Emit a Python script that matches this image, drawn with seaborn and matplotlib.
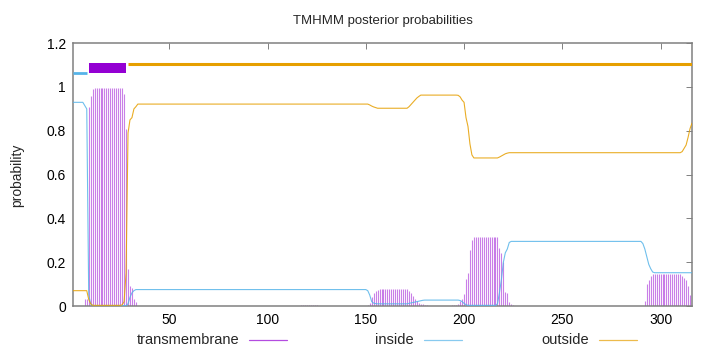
import numpy as np
import pandas as pd
import matplotlib
matplotlib.use("Agg")
import matplotlib.pyplot as plt
from matplotlib.lines import Line2D
import seaborn as sns

# ---------------- data ----------------
residues = list(range(1, 317))

tm_prob = ([0.0] * 6 + [0.03, 0.03, 0.91, 0.96, 0.99] + [0.995] * 15 +
           [0.97, 0.81, 0.17, 0.09, 0.08, 0.03, 0.02] + [0.0] * 83 +
           [0.003] * 9 + [0.0] * 25 +
           [0.005, 0.013, 0.04, 0.06, 0.067, 0.072] + [0.077] * 15 +
           [0.07, 0.06, 0.045, 0.033, 0.024, 0.015, 0.01, 0.007, 0.005, 0.003] +
           [0.002] * 5 + [0.0] * 7 + [0.004] * 3 +
           [0.01, 0.024, 0.034, 0.057, 0.125, 0.15, 0.256, 0.30] + [0.315] * 13 +
           [0.265, 0.24, 0.20, 0.065, 0.06, 0.02, 0.01, 0.005] + [0.0] * 66 +
           [0.025, 0.10, 0.12, 0.135] + [0.145] * 15 +
           [0.135, 0.13, 0.12, 0.09, 0.05, 0.02])

inside_prob = ([0.93] * 6 + [0.915, 0.90, 0.05, 0.01] + [0.002] * 18 +
               [0.01, 0.04, 0.06, 0.07] + [0.075] * 118 +
               [0.07, 0.05, 0.02, 0.013, 0.011] + [0.01] * 16 +
               [0.012, 0.014, 0.016, 0.018, 0.02, 0.022, 0.024, 0.026] + [0.027] * 18 +
               [0.025, 0.02, 0.012, 0.006] + [0.003] * 15 +
               [0.01, 0.06, 0.12, 0.20, 0.243, 0.26, 0.29] + [0.295] * 67 +
               [0.285, 0.26, 0.225, 0.19, 0.17, 0.155] + [0.152] * 20)

outside_prob = ([0.07] * 8 + [0.03, 0.01] + [0.003] * 15 +
                [0.005, 0.02, 0.15, 0.79, 0.85, 0.86, 0.90, 0.91] + [0.922] * 118 +
                [0.918, 0.913, 0.909, 0.906] + [0.903] * 16 +
                [0.91, 0.92, 0.93, 0.94, 0.95, 0.957] + [0.963] * 19 +
                [0.962, 0.955, 0.94, 0.93, 0.86, 0.82, 0.74, 0.69] + [0.676] * 13 +
                [0.68, 0.685, 0.69, 0.695, 0.698] + [0.70] * 88 +
                [0.705, 0.72, 0.735, 0.77, 0.81, 0.835])

# predicted topology (top bar)
seg_labels = ["inside", "TMhelix", "outside"]
seg_start = [1.0, 9.3, 29.0]
seg_end = [8.1, 28.0, 316.0]

series_names = ["transmembrane", "inside", "outside"]
xtick_values = [50, 100, 150, 200, 250, 300]
ytick_values = [0, 0.2, 0.4, 0.6, 0.8, 1.0, 1.2]
ytick_labels = ["0", "0.2", "0.4", "0.6", "0.8", "1", "1.2"]

assert len(tm_prob) == len(inside_prob) == len(outside_prob) == len(residues)

# ---------------- styling ----------------
sns.set_theme(style="white")
plt.rcParams["font.family"] = ["Liberation Sans", "DejaVu Sans"]
plt.rcParams["font.size"] = 9.5

C_TM = "#9400d3"
C_IN = "#56b4e9"
C_OUT = "#e69f00"
FRAME = "#808080"
FS = 10

fig = plt.figure(figsize=(7.2, 3.52), dpi=100)
ax = fig.add_axes([73 / 720, 1 - 306 / 352, 619 / 720, 262.8 / 352])

# transmembrane impulses
ax.vlines(residues, 0, tm_prob, color=C_TM, lw=0.8, alpha=0.5, zorder=2)

# inside / outside curves via seaborn
df = pd.DataFrame({
    "residue": residues * 2,
    "probability": inside_prob + outside_prob,
    "series": ["inside"] * len(residues) + ["outside"] * len(residues),
})
sns.lineplot(data=df, x="residue", y="probability", hue="series",
             palette={"inside": C_IN, "outside": C_OUT}, lw=0.8, alpha=0.85,
             legend=False, ax=ax, zorder=3)

# topology bar on top
for lab, s, e in zip(seg_labels, seg_start, seg_end):
    if lab == "inside":
        ax.plot([s, e], [1.066, 1.066], color=C_IN, lw=2.0, solid_capstyle="butt", zorder=4)
    elif lab == "outside":
        ax.plot([s, e], [1.105, 1.105], color=C_OUT, lw=2.2, solid_capstyle="butt", zorder=4)
    else:
        ax.fill_between([s, e], 1.063, 1.108, color=C_TM, lw=0, zorder=4)

ax.set_xlim(1, 316)
ax.set_ylim(0, 1.2)
ax.set_xticks(xtick_values)
ax.set_xticklabels([str(v) for v in xtick_values])
ax.set_yticks(ytick_values)
ax.set_yticklabels(ytick_labels)
ax.set_xlabel("")
ax.set_ylabel("")
ax.set_title("TMHMM posterior probabilities", fontsize=9.5, pad=14)
fig.text(17 / 720, 1 - 175 / 352, "probability", rotation=90,
         ha="center", va="center", fontsize=FS)

for sp in ax.spines.values():
    sp.set_color(FRAME)
    sp.set_linewidth(1.1)
ax.tick_params(axis="both", direction="in", length=4, width=0.7, color=FRAME,
               top=True, right=True, labelsize=FS, pad=5, labelcolor="black")

# legend (gnuplot-like: text right-justified, then sample line)
leg_y = 1 - 340 / 352
text_right = [239, 414, 589]
for name, tr, col in zip(series_names, text_right, [C_TM, C_IN, C_OUT]):
    fig.text(tr / 720, leg_y, name, ha="right", va="center", fontsize=10.5)
    fig.add_artist(Line2D([(tr + 10) / 720, (tr + 48) / 720], [leg_y, leg_y],
                          color=col, lw=0.9, alpha=0.7, transform=fig.transFigure))

fig.savefig("out.png", dpi=100)
